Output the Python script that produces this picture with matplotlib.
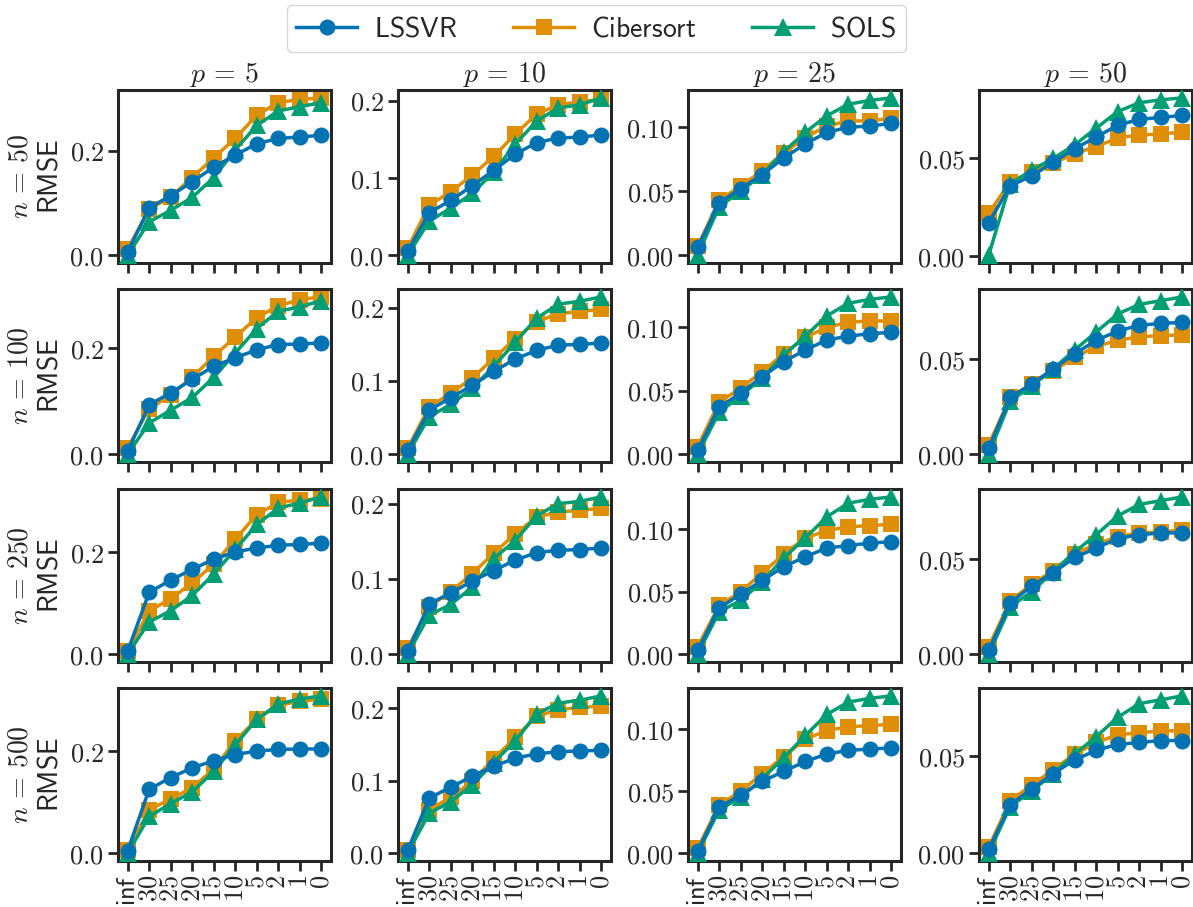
import matplotlib.pyplot as plt
from matplotlib.lines import Line2D

plt.rcParams['mathtext.fontset'] = 'cm'
plt.rcParams['axes.edgecolor'] = '#262626'
plt.rcParams['axes.linewidth'] = 2.2
plt.rcParams['xtick.color'] = '#262626'
plt.rcParams['ytick.color'] = '#262626'
plt.rcParams['xtick.major.width'] = 2.0
plt.rcParams['ytick.major.width'] = 2.0
plt.rcParams['xtick.major.size'] = 7
plt.rcParams['ytick.major.size'] = 7
plt.rcParams['text.color'] = '#262626'
plt.rcParams['axes.labelcolor'] = '#262626'

x_labels = ['inf', '30', '25', '20', '15', '10', '5', '2', '1', '0']
n_values = [50, 100, 250, 500]
p_values = [5, 10, 25, 50]

# one list per p (5, 10, 25, 50)
lssvr_n50 = [
    [0.006, 0.091, 0.114, 0.141, 0.169, 0.192, 0.214, 0.224, 0.227, 0.230],
    [0.005, 0.055, 0.071, 0.090, 0.110, 0.131, 0.146, 0.152, 0.153, 0.156],
    [0.006, 0.041, 0.052, 0.063, 0.076, 0.087, 0.096, 0.100, 0.101, 0.103],
    [0.017, 0.036, 0.041, 0.048, 0.055, 0.061, 0.067, 0.070, 0.071, 0.072],
]
cibersort_n50 = [
    [0.012, 0.088, 0.112, 0.149, 0.187, 0.224, 0.269, 0.293, 0.299, 0.302],
    [0.009, 0.065, 0.082, 0.104, 0.128, 0.157, 0.183, 0.195, 0.199, 0.202],
    [0.007, 0.043, 0.054, 0.066, 0.080, 0.092, 0.101, 0.105, 0.105, 0.107],
    [0.022, 0.038, 0.043, 0.0475, 0.0525, 0.056, 0.0605, 0.062, 0.0625, 0.0635],
]
sols_n50 = [
    [0.0, 0.064, 0.086, 0.111, 0.149, 0.202, 0.249, 0.277, 0.285, 0.293],
    [0.0, 0.044, 0.061, 0.080, 0.108, 0.144, 0.174, 0.191, 0.195, 0.204],
    [0.0, 0.038, 0.050, 0.063, 0.081, 0.096, 0.109, 0.118, 0.121, 0.123],
    [0.0005, 0.037, 0.044, 0.050, 0.057, 0.0655, 0.074, 0.0785, 0.080, 0.081],
]

lssvr_n100 = [
    [0.006, 0.093, 0.116, 0.141, 0.166, 0.182, 0.197, 0.207, 0.208, 0.210],
    [0.005, 0.060, 0.077, 0.094, 0.113, 0.130, 0.142, 0.149, 0.150, 0.152],
    [0.003, 0.037, 0.048, 0.061, 0.073, 0.082, 0.090, 0.093, 0.095, 0.096],
    [0.003, 0.030, 0.037, 0.045, 0.053, 0.060, 0.065, 0.068, 0.069, 0.0695],
]
cibersort_n100 = [
    [0.012, 0.086, 0.111, 0.145, 0.185, 0.221, 0.258, 0.280, 0.292, 0.297],
    [0.008, 0.065, 0.083, 0.104, 0.131, 0.158, 0.181, 0.192, 0.195, 0.198],
    [0.006, 0.041, 0.052, 0.065, 0.079, 0.092, 0.100, 0.104, 0.105, 0.105],
    [0.005, 0.030, 0.037, 0.044, 0.051, 0.057, 0.060, 0.062, 0.0625, 0.063],
]
sols_n100 = [
    [0.0, 0.059, 0.083, 0.107, 0.145, 0.191, 0.237, 0.270, 0.278, 0.290],
    [0.0, 0.051, 0.068, 0.090, 0.120, 0.153, 0.186, 0.205, 0.209, 0.215],
    [0.0, 0.033, 0.046, 0.060, 0.078, 0.093, 0.109, 0.119, 0.122, 0.124],
    [0.0, 0.028, 0.036, 0.045, 0.055, 0.0645, 0.074, 0.079, 0.081, 0.083],
]

lssvr_n250 = [
    [0.006, 0.121, 0.145, 0.166, 0.186, 0.200, 0.208, 0.213, 0.215, 0.217],
    [0.004, 0.067, 0.081, 0.097, 0.111, 0.125, 0.135, 0.138, 0.139, 0.141],
    [0.003, 0.037, 0.048, 0.059, 0.070, 0.078, 0.085, 0.087, 0.089, 0.090],
    [0.002, 0.027, 0.036, 0.043, 0.051, 0.056, 0.061, 0.063, 0.064, 0.064],
]
cibersort_n250 = [
    [0.006, 0.085, 0.108, 0.140, 0.176, 0.225, 0.273, 0.297, 0.302, 0.304],
    [0.008, 0.063, 0.083, 0.107, 0.134, 0.160, 0.182, 0.189, 0.191, 0.194],
    [0.006, 0.039, 0.050, 0.065, 0.080, 0.093, 0.099, 0.102, 0.103, 0.104],
    [0.004, 0.028, 0.037, 0.044, 0.053, 0.058, 0.062, 0.064, 0.0645, 0.0655],
]
sols_n250 = [
    [0.0, 0.063, 0.085, 0.115, 0.157, 0.205, 0.254, 0.286, 0.296, 0.308],
    [0.0, 0.052, 0.066, 0.089, 0.127, 0.151, 0.184, 0.200, 0.203, 0.209],
    [0.0, 0.034, 0.043, 0.058, 0.077, 0.093, 0.110, 0.121, 0.124, 0.126],
    [0.0, 0.025, 0.033, 0.0435, 0.054, 0.063, 0.073, 0.079, 0.081, 0.083],
]

lssvr_n500 = [
    [0.005, 0.125, 0.148, 0.167, 0.181, 0.193, 0.200, 0.203, 0.204, 0.204],
    [0.004, 0.076, 0.091, 0.106, 0.120, 0.131, 0.137, 0.140, 0.141, 0.142],
    [0.002, 0.037, 0.047, 0.058, 0.066, 0.074, 0.080, 0.083, 0.084, 0.085],
    [0.002, 0.025, 0.033, 0.041, 0.048, 0.053, 0.056, 0.057, 0.058, 0.058],
]
cibersort_n500 = [
    [0.007, 0.085, 0.106, 0.128, 0.165, 0.220, 0.262, 0.290, 0.297, 0.302],
    [0.005, 0.060, 0.077, 0.099, 0.130, 0.160, 0.189, 0.198, 0.201, 0.203],
    [0.004, 0.039, 0.050, 0.064, 0.078, 0.092, 0.099, 0.102, 0.103, 0.104],
    [0.003, 0.027, 0.035, 0.043, 0.051, 0.057, 0.061, 0.062, 0.063, 0.063],
]
sols_n500 = [
    [0.0, 0.072, 0.097, 0.120, 0.160, 0.212, 0.262, 0.292, 0.302, 0.308],
    [0.0, 0.055, 0.071, 0.094, 0.125, 0.155, 0.192, 0.207, 0.211, 0.217],
    [0.0, 0.035, 0.045, 0.060, 0.077, 0.095, 0.112, 0.122, 0.125, 0.127],
    [0.0, 0.024, 0.032, 0.041, 0.051, 0.060, 0.070, 0.077, 0.079, 0.081],
]

lssvr = [lssvr_n50, lssvr_n100, lssvr_n250, lssvr_n500]
cibersort = [cibersort_n50, cibersort_n100, cibersort_n250, cibersort_n500]
sols = [sols_n50, sols_n100, sols_n250, sols_n500]

methods = [
    # label, data, colour, marker, zorder
    ('LSSVR', lssvr, '#0173b2', 'o', 4),
    ('Cibersort', cibersort, '#de8f05', 's', 2),
    ('SOLS', sols, '#029e73', '^', 3),
]

y_ticks = [[0.0, 0.2], [0.0, 0.1, 0.2], [0.0, 0.05, 0.10], [0.0, 0.05]]
y_fmt = ['{:.1f}', '{:.1f}', '{:.2f}', '{:.2f}']

W, H = 1193, 907
fig = plt.figure(figsize=(W / 100, H / 100), dpi=100)

lefts_px = [118, 398, 688, 979]
tops_px = [90, 289, 489, 688]
w_px, h_px = 213, 173


def marker_size(m):
    return 12.5 if m == '^' else 11.5


for i, n in enumerate(n_values):
    for j, p in enumerate(p_values):
        ax = fig.add_axes([lefts_px[j] / W, 1 - (tops_px[i] + h_px) / H,
                           w_px / W, h_px / H])
        for label, data, color, marker, z in methods:
            ax.plot(x_labels, data[i][j], color=color, marker=marker,
                    lw=2.5, ms=marker_size(marker), mec=color, mew=0,
                    zorder=z)

        ax.set_xticks(range(len(x_labels)))
        if i == len(n_values) - 1:
            ax.set_xticklabels(['$\\mathsf{' + s + '}$' for s in x_labels],
                               rotation=90, fontsize=19)
        else:
            ax.set_xticklabels([])

        ax.set_yticks(y_ticks[j])
        ax.set_yticklabels(['$' + y_fmt[j].format(v) + '$' for v in y_ticks[j]],
                           fontsize=19)
        ax.tick_params(pad=3)

        if i == 0:
            ax.set_title(f'$p\\,=\\,{p}$', fontsize=20, pad=6)
        if j == 0:
            ax.set_ylabel(f'$n\\,=\\,{n}$\n$\\mathsf{{RMSE}}$', fontsize=20,
                          linespacing=1.1)

handles = [Line2D([], [], color=c, marker=m, lw=2.5, ms=marker_size(m),
                  mec=c, mew=0) for _, _, c, m, _ in methods]
labels = ['$\\mathsf{' + lab + '}$' for lab, _, _, _, _ in methods]
fig.legend(handles, labels, loc='upper center', bbox_to_anchor=(0.5, 0.998),
           ncol=3, fontsize=20, frameon=True, fancybox=True,
           edgecolor='#cccccc', handlelength=2.2, columnspacing=2.0,
           borderpad=0.35, borderaxespad=0.1, handletextpad=0.6)

fig.savefig('out.png', dpi=100)
